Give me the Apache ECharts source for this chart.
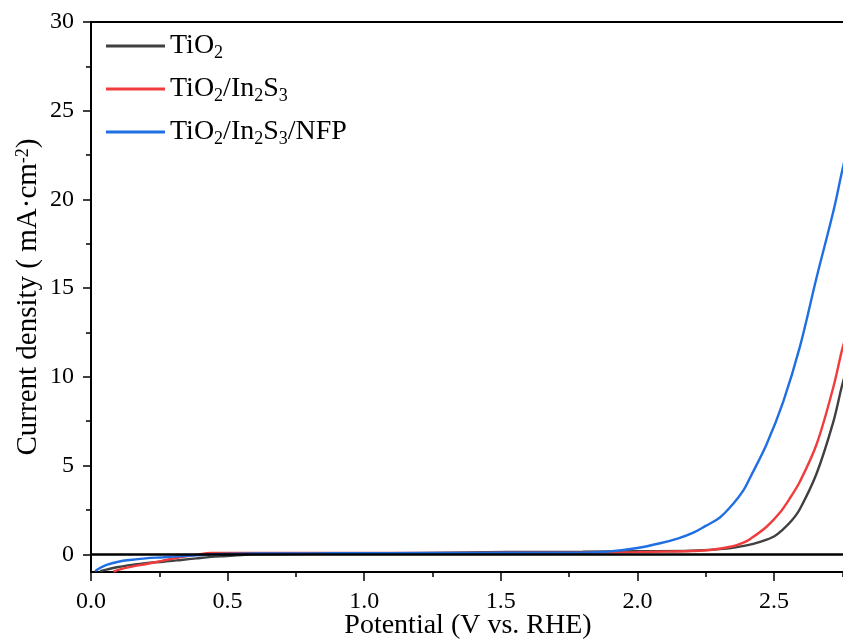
<!DOCTYPE html>
<html>
<head>
<meta charset="utf-8">
<script src="https://cdn.jsdelivr.net/npm/echarts@6/dist/echarts.min.js"></script>
<style>
  html, body { margin: 0; padding: 0; background: #fff; }
  #chart { width: 843px; height: 641px; }
</style>
</head>
<body>
<div id="chart"></div>
<script>
// 曲线数据
const tioX = [0.033, 0.06, 0.1, 0.15, 0.2, 0.265, 0.33, 0.386, 0.44, 0.496, 0.6, 0.8, 1.0, 1.2, 1.45, 1.6, 1.8, 2.0, 2.2, 2.327, 2.4, 2.449, 2.5, 2.534, 2.565, 2.595, 2.656, 2.717, 2.748, 2.76];
const tioY = [-0.95, -0.85, -0.72, -0.6, -0.5, -0.42, -0.32, -0.23, -0.15, -0.1, 0.0, 0.02, 0.04, 0.06, 0.12, 0.13, 0.14, 0.17, 0.2, 0.32, 0.5, 0.7, 1.0, 1.42, 1.9, 2.55, 4.55, 7.45, 9.44, 10.1];

const inX = [0.082, 0.1, 0.15, 0.203, 0.26, 0.326, 0.38, 0.44, 0.6, 0.8, 1.0, 1.2, 1.4, 1.6, 1.8, 2.0, 2.1, 2.2, 2.266, 2.35, 2.388, 2.412, 2.473, 2.522, 2.56, 2.595, 2.656, 2.717, 2.748, 2.76];
const inY = [-0.98, -0.88, -0.7, -0.55, -0.37, -0.17, -0.05, 0.08, 0.08, 0.08, 0.08, 0.08, 0.08, 0.09, 0.1, 0.12, 0.15, 0.18, 0.24, 0.45, 0.65, 0.85, 1.55, 2.35, 3.2, 4.1, 6.2, 9.4, 11.45, 12.1];

const nfpX = [0.015, 0.03, 0.057, 0.1, 0.143, 0.2, 0.265, 0.337, 0.4, 0.45, 0.6, 0.8, 1.0, 1.2, 1.4, 1.6, 1.8, 1.9, 2.0, 2.083, 2.15, 2.205, 2.25, 2.302, 2.351, 2.388, 2.412, 2.473, 2.534, 2.595, 2.656, 2.717, 2.748, 2.76];
const nfpY = [-0.95, -0.8, -0.6, -0.42, -0.32, -0.23, -0.17, -0.1, -0.05, 0.0, 0.04, 0.05, 0.06, 0.07, 0.08, 0.09, 0.1, 0.16, 0.35, 0.62, 0.9, 1.22, 1.6, 2.07, 2.85, 3.6, 4.3, 6.2, 8.6, 11.7, 15.6, 19.3, 21.5, 22.3];

const xMajor = [0, 0.5, 1.0, 1.5, 2.0, 2.5];
const xMinor = [0.25, 0.75, 1.25, 1.75, 2.25, 2.75];
const yMajor = [0, 5, 10, 15, 20, 25, 30];
const yMinor = [2.5, 7.5, 12.5, 17.5, 22.5, 27.5];

const names = ['TiO2', 'TiO2/In2S3', 'TiO2/In2S3/NFP'];
const legendText = {
  'TiO2': 'TiO{sub|2}',
  'TiO2/In2S3': 'TiO{sub|2}/In{sub|2}S{sub|3}',
  'TiO2/In2S3/NFP': 'TiO{sub|2}/In{sub|2}S{sub|3}/NFP'
};

const pairs = (xs, ys) => xs.map((x, i) => [x, ys[i]]);
const serif = 'Liberation Serif';

const chart = echarts.init(document.getElementById('chart'));

const baseX = {
  type: 'value', min: 0, max: 2.76, position: 'bottom',
  splitLine: { show: false }
};
const baseY = {
  type: 'value', min: -1, max: 30, position: 'left',
  splitLine: { show: false }
};

const option = {
  backgroundColor: '#fff',
  animation: false,
  grid: {
    left: 91, top: 22, width: 754, bottom: 69,
    outerBoundsMode: 'none',
    containLabel: false,
    show: true, borderColor: '#000', borderWidth: 2, backgroundColor: 'transparent'
  },
  legend: {
    data: names,
    orient: 'vertical',
    left: 101, top: 25,
    icon: 'rect',
    itemWidth: 59, itemHeight: 3,
    itemGap: 11,
    formatter: n => legendText[n],
    textStyle: {
      fontFamily: serif, fontSize: 28, color: '#000', lineHeight: 32,
      rich: {
        sub: { fontFamily: serif, fontSize: 18, lineHeight: 18, verticalAlign: 'bottom', color: '#000' }
      }
    }
  },
  xAxis: [
    Object.assign({}, baseX, {
      name: 'Potential (V vs. RHE)',
      nameLocation: 'middle', nameGap: 40, nameMoveOverlap: false,
      nameTextStyle: { fontFamily: serif, fontSize: 28, color: '#000' },
      axisLine: { show: true, onZero: false, lineStyle: { color: '#000', width: 2 } },
      axisTick: { show: true, customValues: xMajor, length: 9, lineStyle: { color: '#000', width: 1.5 } },
      axisLabel: {
        customValues: xMajor, margin: 18,
        formatter: v => v.toFixed(1),
        fontFamily: serif, fontSize: 24, color: '#000'
      }
    }),
    Object.assign({}, baseX, {
      axisLine: { show: false, onZero: false },
      axisTick: { show: true, customValues: xMinor, length: 5, lineStyle: { color: '#000', width: 1.5 } },
      axisLabel: { show: false }
    })
  ],
  yAxis: [
    Object.assign({}, baseY, {
      name: 'Current density ( mA·cm{sup|-2})',
      nameLocation: 'middle', nameGap: 48, nameRotate: 90, nameMoveOverlap: false,
      nameTextStyle: {
        fontFamily: serif, fontSize: 29, color: '#000',
        rich: { sup: { fontFamily: serif, fontSize: 18, verticalAlign: 'top', lineHeight: 18, color: '#000' } }
      },
      axisLine: { show: true, onZero: false, lineStyle: { color: '#000', width: 2 } },
      axisTick: { show: true, customValues: yMajor, length: 8, lineStyle: { color: '#000', width: 1.5 } },
      axisLabel: {
        customValues: yMajor, margin: 17,
        fontFamily: serif, fontSize: 24, color: '#000'
      }
    }),
    Object.assign({}, baseY, {
      axisLine: { show: false, onZero: false },
      axisTick: { show: true, customValues: yMinor, length: 5, lineStyle: { color: '#000', width: 1.5 } },
      axisLabel: { show: false }
    })
  ],
  series: [
    {
      name: 'TiO2', type: 'line', data: pairs(tioX, tioY),
      showSymbol: false, smooth: 0.35,
      lineStyle: { color: '#404040', width: 2.4 }, itemStyle: { color: '#404040' },
      markLine: {
        silent: true, symbol: 'none', label: { show: false },
        lineStyle: { color: '#000', width: 2.5, type: 'solid' },
        data: [{ yAxis: 0 }]
      },
      z: 3
    },
    {
      name: 'TiO2/In2S3', type: 'line', data: pairs(inX, inY),
      showSymbol: false, smooth: 0.35,
      lineStyle: { color: '#f03c3c', width: 2.4 }, itemStyle: { color: '#f03c3c' },
      z: 3
    },
    {
      name: 'TiO2/In2S3/NFP', type: 'line', data: pairs(nfpX, nfpY),
      showSymbol: false, smooth: 0.35,
      lineStyle: { color: '#1f6fe3', width: 2.4 }, itemStyle: { color: '#1f6fe3' },
      z: 3
    }
  ]
};

chart.setOption(option);
</script>
</body>
</html>
